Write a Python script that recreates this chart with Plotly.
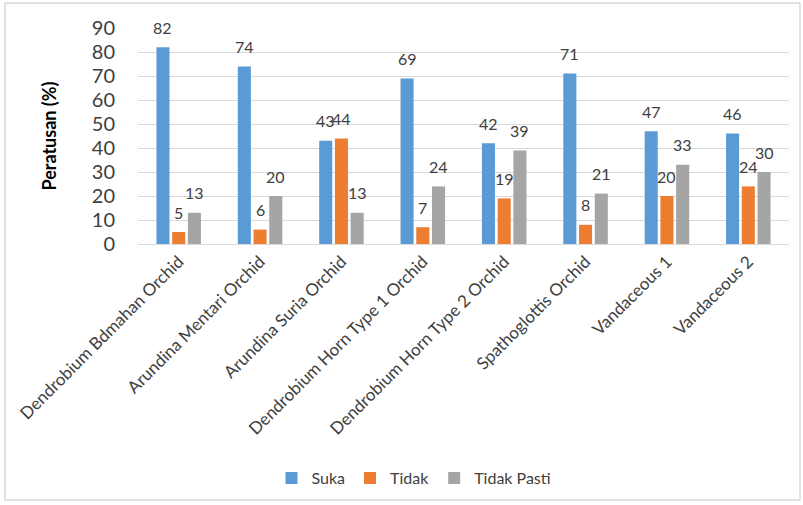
import plotly.graph_objects as go

categories = ["Dendrobium Bdmahan Orchid", "Arundina Mentari Orchid", "Arundina Suria Orchid",
              "Dendrobium Horn Type 1 Orchid", "Dendrobium Horn Type 2 Orchid",
              "Spathoglottis Orchid", "Vandaceous 1", "Vandaceous 2"]
suka = [82, 74, 43, 69, 42, 71, 47, 46]
tidak = [5, 6, 44, 7, 19, 8, 20, 24]
tidak_pasti = [13, 20, 13, 24, 39, 21, 33, 30]
y_ticks = [0, 10, 20, 30, 40, 50, 60, 70, 80, 90]

W, H = 803, 505
ML, MR, MT, MB = 138, 14, 28, 261
FONT = "Lato"
BARGAP = 0.42

series = [("Suka", suka, "#5B9BD5"), ("Tidak", tidak, "#ED7D31"),
          ("Tidak Pasti", tidak_pasti, "#A5A5A5")]

pw = W - ML - MR
ph = H - MT - MB
def px2x(p): return (p - ML) / pw
def py2y(p): return (H - MB - p) / ph

slot = pw / len(categories) * (1 - BARGAP) / len(series)

fig = go.Figure()
annotations = []
for i, (name, vals, col) in enumerate(series):
    fig.add_trace(go.Bar(
        x=categories, y=vals, name=name, marker=dict(color=col, line=dict(width=0)),
    ))
    for c, v in zip(categories, vals):
        annotations.append(dict(
            x=c, y=v, xref="x", yref="y", text=str(v), showarrow=False,
            xshift=(i - 1) * slot, yshift=20, yanchor="middle", xanchor="center",
            font=dict(size=16, color="#404040", family=FONT)))

fig.add_shape(type="rect", xref="paper", yref="paper",
              x0=px2x(5), x1=px2x(800), y0=py2y(500), y1=py2y(3),
              line=dict(color="#D9D9D9", width=1.5), fillcolor="rgba(0,0,0,0)", layer="below")

fig.update_layout(
    width=W, height=H, margin=dict(l=ML, r=MR, t=MT, b=MB, autoexpand=False),
    paper_bgcolor="white", plot_bgcolor="white",
    barmode="group", bargap=BARGAP, bargroupgap=0.17,
    font=dict(family=FONT, color="#404040"),
    showlegend=True,
    annotations=annotations,
    legend=dict(orientation="h", x=px2x(414), xanchor="center", y=py2y(478), yanchor="middle",
                font=dict(size=16, color="#404040", family=FONT), itemwidth=30,
                tracegroupgap=0),
    yaxis=dict(range=[0, 90], tickvals=y_ticks, showgrid=True, gridcolor="#D9D9D9", gridwidth=1,
               zeroline=False, showline=False, ticks="", tickfont=dict(size=20, color="#404040"),
               automargin=False, ticklabelstandoff=22,
               title=dict(text="<b>Peratusan (%)</b>", font=dict(size=18, color="#000000"), standoff=30)),
    xaxis=dict(tickangle=-45, showline=True, linecolor="#D9D9D9", linewidth=1, ticks="",
               automargin=False,
               tickfont=dict(size=17, color="#404040"), showgrid=False),
)
fig.write_html("out.html", config={"displayModeBar": False},
               post_script="document.body.style.margin='0px';")
